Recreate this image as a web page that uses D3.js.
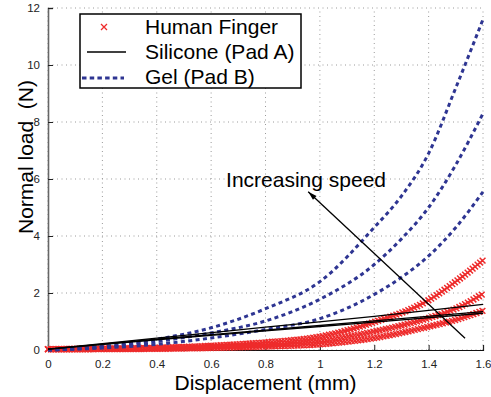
<!DOCTYPE html>
<html><head><meta charset="utf-8">
<script src="https://cdn.jsdelivr.net/npm/d3@7"></script>
<style>body{margin:0;background:#fff;} svg{display:block;font-family:"Liberation Sans",Arial,Helvetica,sans-serif;}</style>
</head><body>
<svg id="chart" width="491" height="397"></svg>
<script>
// ---- data ----
const xTicks = [0, 0.2, 0.4, 0.6, 0.8, 1, 1.2, 1.4, 1.6];
const yTicks = [0, 2, 4, 6, 8, 10, 12];
const seriesNames = ["Human Finger", "Silicone (Pad A)", "Gel (Pad B)"];

const fingerX = [0, 0.2, 0.4, 0.6, 0.8, 1.0, 1.2, 1.4, 1.5, 1.6];
const finger1 = [0.03, 0.05, 0.08, 0.15, 0.27, 0.47, 0.98, 1.75, 2.4, 3.15];
const finger2 = [0.03, 0.04, 0.06, 0.11, 0.18, 0.32, 0.65, 1.12, 1.45, 1.97];
const finger3 = [0.02, 0.03, 0.04, 0.07, 0.12, 0.2, 0.42, 0.82, 1.06, 1.38];

const siliconeX = [0, 0.4, 0.8, 1.2, 1.6];
const silicone1 = [0.03, 0.42, 0.8, 1.18, 1.6];
const silicone2 = [0.03, 0.38, 0.7, 1.02, 1.35];
const silicone3 = [0.03, 0.36, 0.67, 0.98, 1.29];

const gelX = [0, 0.2, 0.4, 0.6, 0.8, 1.0, 1.2, 1.3, 1.4, 1.5, 1.6];
const gel1 = [0, 0.12, 0.38, 0.78, 1.45, 2.4, 4.3, 5.4, 6.9, 9.2, 11.6];
const gel2 = [0, 0.1, 0.3, 0.6, 1.02, 1.78, 3.0, 3.9, 5.0, 6.5, 8.3];
const gel3 = [0, 0.07, 0.2, 0.42, 0.72, 1.1, 1.95, 2.55, 3.3, 4.3, 5.55];

const arrowFrom = [1.534, 0.41];
const arrowTo = [0.957, 5.55];
const annotation = "Increasing speed";
const annotationPos = [0.655, 5.72];

// ---- layout ----
const svg = d3.select("#chart");
const x = d3.scaleLinear().domain([0, 1.6]).range([48, 483]);
const y = d3.scaleLinear().domain([0, 12]).range([350, 8]);

const red = "#ee2b2b", blue = "#2e3592";

// grid
const grid = svg.append("g");
grid.selectAll("line.gx").data(xTicks).join("line")
  .attr("x1", d => x(d)).attr("x2", d => x(d)).attr("y1", y(0)).attr("y2", y(12))
  .attr("stroke", "#9a9a9a").attr("stroke-width", 1).attr("stroke-dasharray", "1,3.5");
grid.selectAll("line.gy").data(yTicks).join("line")
  .attr("x1", x(0)).attr("x2", x(1.6)).attr("y1", d => y(d)).attr("y2", d => y(d))
  .attr("stroke", "#9a9a9a").attr("stroke-width", 1).attr("stroke-dasharray", "1,3.5");

// axes
const xAxis = d3.axisBottom(x).tickValues(xTicks).tickSize(-5).tickPadding(10).tickFormat(d3.format("~g"));
const yAxis = d3.axisLeft(y).tickValues(yTicks).tickSize(-5).tickPadding(8).tickFormat(d3.format("~g"));
const gx = svg.append("g").attr("transform", `translate(0,${y(0)})`).call(xAxis);
const gy = svg.append("g").attr("transform", `translate(${x(0)},0)`).call(yAxis);
gx.select(".domain").attr("stroke", "#111").attr("stroke-width", 1.2);
gy.select(".domain").attr("stroke", "#666").attr("stroke-width", 1.6);
[gx, gy].forEach(g => {
  g.selectAll(".tick line").attr("stroke", "#222");
  g.selectAll(".tick text").attr("font-size", "11.5px").attr("fill", "#222")
    .attr("font-family", "'Liberation Sans',Arial,sans-serif");
});
gx.selectAll(".tick text").attr("dy", "0.71em");

const line = d3.line().x(d => x(d[0])).y(d => y(d[1])).curve(d3.curveMonotoneX);
const zip = (xs, ys) => xs.map((v, i) => [v, ys[i]]);

// human finger: x markers spread along each measured curve
const fingerG = svg.append("g");
[finger1, finger2, finger3].forEach(vals => {
  const p = fingerG.append("path").attr("d", line(zip(fingerX, vals))).attr("fill", "none").attr("stroke", "none");
  const node = p.node(), L = node.getTotalLength();
  const step = 3.2, s = 2.9;
  let dStr = "";
  for (let l = 0; l <= L; l += step) {
    const pt = node.getPointAtLength(l);
    dStr += `M${pt.x - s},${pt.y - s}L${pt.x + s},${pt.y + s}M${pt.x - s},${pt.y + s}L${pt.x + s},${pt.y - s}`;
  }
  fingerG.append("path").attr("d", dStr).attr("stroke", red).attr("stroke-width", 1.5).attr("fill", "none");
});

// gel: dashed blue
svg.append("g").selectAll("path").data([gel1, gel2, gel3]).join("path")
  .attr("d", d => line(zip(gelX, d)))
  .attr("fill", "none").attr("stroke", blue).attr("stroke-width", 3).attr("stroke-dasharray", "4,3.4");

// silicone: solid black
svg.append("g").selectAll("path").data([silicone1, silicone2, silicone3]).join("path")
  .attr("d", d => line(zip(siliconeX, d)))
  .attr("fill", "none").attr("stroke", "#000").attr("stroke-width", 1.3);

// arrow annotation
const ax1 = x(arrowFrom[0]), ay1 = y(arrowFrom[1]), ax2 = x(arrowTo[0]), ay2 = y(arrowTo[1]);
svg.append("line").attr("x1", ax1).attr("y1", ay1).attr("x2", ax2).attr("y2", ay2)
  .attr("stroke", "#000").attr("stroke-width", 1.3);
const ang = Math.atan2(ay2 - ay1, ax2 - ax1);
const hl = 9, hw = 2.6;
const bx = ax2 - hl * Math.cos(ang), by = ay2 - hl * Math.sin(ang);
svg.append("path")
  .attr("d", `M${ax2},${ay2}L${bx + hw * Math.sin(ang)},${by - hw * Math.cos(ang)}L${bx - hw * Math.sin(ang)},${by + hw * Math.cos(ang)}Z`)
  .attr("fill", "#000");
svg.append("text").attr("x", x(annotationPos[0])).attr("y", y(annotationPos[1]))
  .attr("font-size", "21px").attr("fill", "#000").text(annotation);

// axis titles
svg.append("text").attr("x", (x(0) + x(1.6)) / 2).attr("y", 390).attr("text-anchor", "middle")
  .attr("font-size", "21px").text("Displacement (mm)");
svg.append("text").attr("transform", "translate(33,157) rotate(-90)").attr("text-anchor", "middle")
  .attr("font-size", "21px").style("white-space", "pre").text("Normal load  (N)");

// legend
const lg = svg.append("g");
lg.append("rect").attr("x", 80).attr("y", 14).attr("width", 221).attr("height", 74)
  .attr("fill", "#fff").attr("stroke", "#000").attr("stroke-width", 1.5);
const rows = [27, 52, 77];
// marker
const mx = 104, my = rows[0], ms = 3;
lg.append("path").attr("d", `M${mx - ms},${my - ms}L${mx + ms},${my + ms}M${mx - ms},${my + ms}L${mx + ms},${my - ms}`)
  .attr("stroke", red).attr("stroke-width", 1.3);
lg.append("line").attr("x1", 87).attr("x2", 126).attr("y1", rows[1]).attr("y2", rows[1]).attr("stroke", "#000").attr("stroke-width", 1.3);
lg.append("line").attr("x1", 82).attr("x2", 124).attr("y1", rows[2] + 1).attr("y2", rows[2] + 1)
  .attr("stroke", blue).attr("stroke-width", 3).attr("stroke-dasharray", "4.5,3.2");
lg.selectAll("text").data(seriesNames).join("text")
  .attr("x", 145).attr("y", (d, i) => rows[i] + 7).attr("font-size", "21px").text(d => d);
</script>
</body></html>
